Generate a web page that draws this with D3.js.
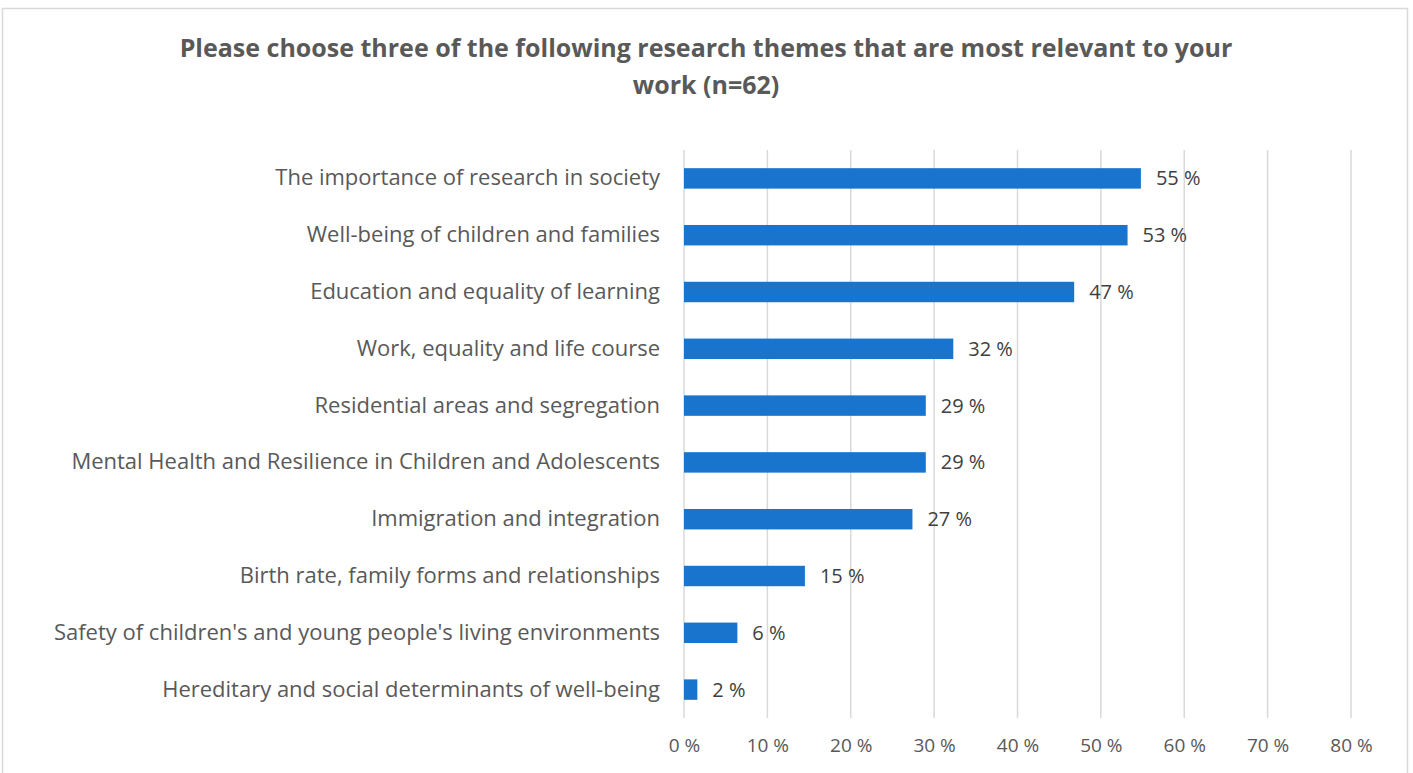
<!DOCTYPE html>
<html>
<head>
<meta charset="utf-8">
<script src="https://cdn.jsdelivr.net/npm/d3@7"></script>
<style>
  body { margin: 0; background: #fff; }
  svg { display: block; font-family: "Open Sans", sans-serif; }
</style>
</head>
<body>
<div id="chart"></div>
<script>
const themes = [
  "The importance of research in society",
  "Well-being of children and families",
  "Education and equality of learning",
  "Work, equality and life course",
  "Residential areas and segregation",
  "Mental Health and Resilience in Children and Adolescents",
  "Immigration and integration",
  "Birth rate, family forms and relationships",
  "Safety of children's and young people's living environments",
  "Hereditary and social determinants of well-being"
];
// share of respondents (n=62), in percent
const shares = [54.8, 53.2, 46.8, 32.3, 29.0, 29.0, 27.4, 14.5, 6.4, 1.6];
const xTicks = [0, 10, 20, 30, 40, 50, 60, 70, 80];
const titleLines = [
  "Please choose three of the following research themes that are most relevant to your",
  "work (n=62)"
];

const W = 1413, H = 773
, margin = {top: 150, right: 62, bottom: 55, left: 684}
, textColor = "#595959"
, barColor = "#1874cd";

const svg = d3.select("#chart").append("svg")
  .attr("width", W)
  .attr("height", H);

// chart frame
svg.append("rect")
  .attr("x", 2.5).attr("y", 8.5)
  .attr("width", 1405).attr("height", 780)
  .style("fill", "#fff")
  .style("stroke", "#d9d9d9")
  .style("stroke-width", 1.5);

svg.selectAll(".title")
  .data(titleLines)
  .enter().append("text")
  .attr("class", "title")
  .attr("x", 706)
  .attr("y", (d, i) => 57 + i * 37)
  .attr("text-anchor", "middle")
  .style("font-size", "25px")
  .style("font-weight", "bold")
  .style("fill", textColor)
  .text(d => d);

const x = d3.scaleLinear()
  .domain([0, 80])
  .range([margin.left, W - margin.right]);

const y = d3.scaleBand()
  .domain(themes)
  .range([margin.top, H - margin.bottom])
  .paddingInner(0.64)
  .paddingOuter(0.32);

// gridlines
svg.selectAll(".grid")
  .data(xTicks)
  .enter().append("line")
  .attr("class", "grid")
  .attr("x1", d => x(d)).attr("x2", d => x(d))
  .attr("y1", margin.top).attr("y2", H - margin.bottom)
  .style("stroke", "#d9d9d9")
  .style("stroke-width", 1.5);

// x axis labels
const xAxis = svg.append("g")
  .attr("transform", `translate(0,${H - margin.bottom})`)
  .call(d3.axisBottom(x).tickValues(xTicks).tickSize(0).tickPadding(21)
    .tickFormat(d => d + " %"));
xAxis.select(".domain").remove();
xAxis.selectAll("text")
  .style("font-family", "'Open Sans', sans-serif")
  .style("font-size", "19px")
  .style("fill", textColor);

// category labels
const yAxis = svg.append("g")
  .attr("transform", `translate(${margin.left},0)`)
  .call(d3.axisLeft(y).tickSize(0).tickPadding(24));
yAxis.select(".domain").remove();
yAxis.selectAll("text")
  .style("font-family", "'Open Sans', sans-serif")
  .style("font-size", "22px")
  .style("fill", textColor);

// bars
svg.selectAll(".bar")
  .data(shares)
  .enter().append("rect")
  .attr("class", "bar")
  .attr("x", x(0))
  .attr("y", (d, i) => y(themes[i]))
  .attr("width", d => x(d) - x(0))
  .attr("height", y.bandwidth())
  .style("fill", barColor);

// value labels
svg.selectAll(".val")
  .data(shares)
  .enter().append("text")
  .attr("class", "val")
  .attr("x", d => x(d) + 15)
  .attr("y", (d, i) => y(themes[i]) + y.bandwidth() / 2)
  .attr("dy", "0.35em")
  .style("font-size", "20px")
  .style("fill", "#404040")
  .text(d => Math.round(d) + " %");
</script>
</body>
</html>
